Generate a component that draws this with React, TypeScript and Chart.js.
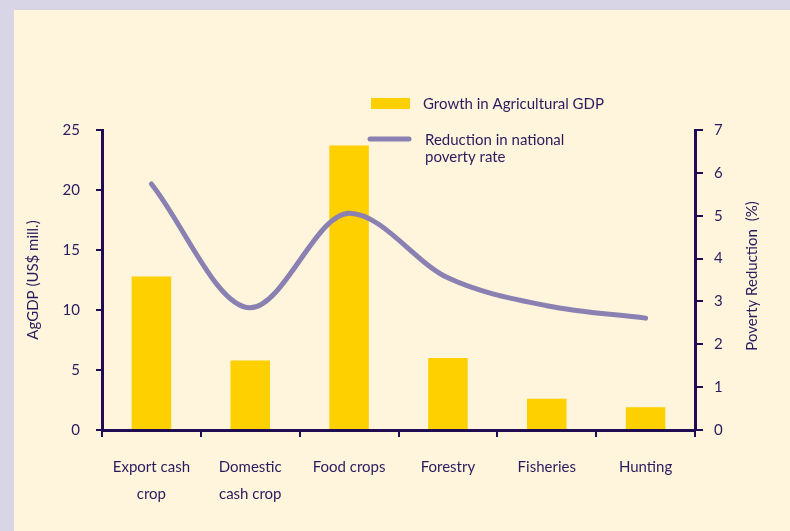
import React, { useEffect, useRef } from 'react';
import { Chart, registerables } from 'chart.js';

Chart.register(...registerables);

const categories: string[][] = [
  ['Export cash', 'crop'],
  ['Domestic', 'cash crop'],
  ['Food crops'],
  ['Forestry'],
  ['Fisheries'],
  ['Hunting'],
];
const agGdpGrowth = [12.8, 5.8, 23.7, 6.0, 2.6, 1.9];
const povertyReduction = [5.74, 2.85, 5.06, 3.55, 2.9, 2.61];

const barLabel = 'Growth in Agricultural GDP';
const lineLabel = ['Reduction in national', 'poverty rate'];
const leftTitle = 'AgGDP (US$ mill.)';
const rightTitle = 'Poverty Reduction  (%)';

const FONT = 'Lato, "Open Sans", sans-serif';
const TEXT = '#2b1a5e';
const AXIS = '#1f0c52';
const BAR = '#ffd000';
const LINE = '#8a80b2';

const overlay = {
  id: 'overlay',
  afterDraw(chart: any) {
    const ctx = chart.ctx;
    ctx.save();
    ctx.fillStyle = TEXT;
    ctx.font = `15px ${FONT}`;
    ctx.textBaseline = 'middle';
    ctx.textAlign = 'center';
    // left title
    ctx.save();
    ctx.translate(33, 280);
    ctx.rotate(-Math.PI / 2);
    ctx.fillText(leftTitle, 0, 0);
    ctx.restore();
    // right title
    ctx.save();
    ctx.translate(752, 276);
    ctx.rotate(-Math.PI / 2);
    ctx.fillText(rightTitle, 0, 0);
    ctx.restore();
    // legend
    ctx.fillStyle = BAR;
    ctx.fillRect(371, 98, 39, 11);
    ctx.strokeStyle = LINE;
    ctx.lineWidth = 5;
    ctx.lineCap = 'round';
    ctx.beginPath();
    ctx.moveTo(370, 139);
    ctx.lineTo(409, 139);
    ctx.stroke();
    ctx.fillStyle = TEXT;
    ctx.textAlign = 'left';
    ctx.fillText(barLabel, 423, 104);
    ctx.fillText(lineLabel[0], 425, 140);
    ctx.fillText(lineLabel[1], 425, 157);
    ctx.restore();
  },
};

export default function App() {
  const ref = useRef<HTMLCanvasElement | null>(null);
  useEffect(() => {
    if (!ref.current) return;
    const chart = new Chart(ref.current, {
      type: 'bar',
      data: {
        labels: categories as any,
        datasets: [
          {
            type: 'line',
            label: lineLabel.join(' '),
            data: povertyReduction,
            yAxisID: 'y2',
            borderColor: LINE,
            borderWidth: 5,
            borderCapStyle: 'round',
            borderJoinStyle: 'round',
            pointRadius: 0,
            cubicInterpolationMode: 'monotone',
            fill: false,
            order: 0,
          } as any,
          {
            type: 'bar',
            label: barLabel,
            data: agGdpGrowth,
            yAxisID: 'y',
            backgroundColor: BAR,
            barPercentage: 0.4,
            categoryPercentage: 1,
            order: 1,
          } as any,
        ],
      },
      options: {
        responsive: false,
        animation: false,
        devicePixelRatio: 1,
        layout: { padding: { top: 130, left: 0, right: 0, bottom: 0 } },
        plugins: { legend: { display: false }, tooltip: { enabled: false } },
        scales: {
          x: {
            offset: true,
            grid: { display: true, drawOnChartArea: false, drawTicks: true, tickLength: 7, color: AXIS, lineWidth: 2, offset: true },
            border: { display: true, color: AXIS, width: 3 },
            ticks: { color: TEXT, font: { family: FONT, size: 15, lineHeight: 1.85 }, padding: 16, maxRotation: 0, autoSkip: false },
            afterFit: (s: any) => { s.height = 101; },
          },
          y: {
            position: 'left',
            min: 0,
            max: 25,
            ticks: { stepSize: 5, color: TEXT, font: { family: FONT, size: 15 }, padding: 16 },
            grid: { display: true, drawOnChartArea: false, drawTicks: true, tickLength: 6, color: AXIS, lineWidth: 2 },
            border: { display: true, color: AXIS, width: 3 },
            afterFit: (s: any) => { s.width = 102; },
          },
          y2: {
            position: 'right',
            min: 0,
            max: 7,
            ticks: { stepSize: 1, color: TEXT, font: { family: FONT, size: 15 }, padding: 11 },
            grid: { display: true, drawOnChartArea: false, drawTicks: true, tickLength: 8, color: AXIS, lineWidth: 2 },
            border: { display: true, color: AXIS, width: 3 },
            afterFit: (s: any) => { s.width = 95; },
          },
        },
      } as any,
      plugins: [overlay],
    });
    return () => chart.destroy();
  }, []);

  return (
    <div style={{ position: 'fixed', left: 0, top: 0, width: 790, height: 531, background: '#d7d5e6', overflow: 'hidden' }}>
      <div style={{ position: 'absolute', left: 14, top: 10, right: 0, bottom: 0, background: '#fff5dc' }} />
      <canvas ref={ref} width={790} height={531} style={{ position: 'absolute', left: 0, top: 0, width: 790, height: 531 }} />
    </div>
  );
}
